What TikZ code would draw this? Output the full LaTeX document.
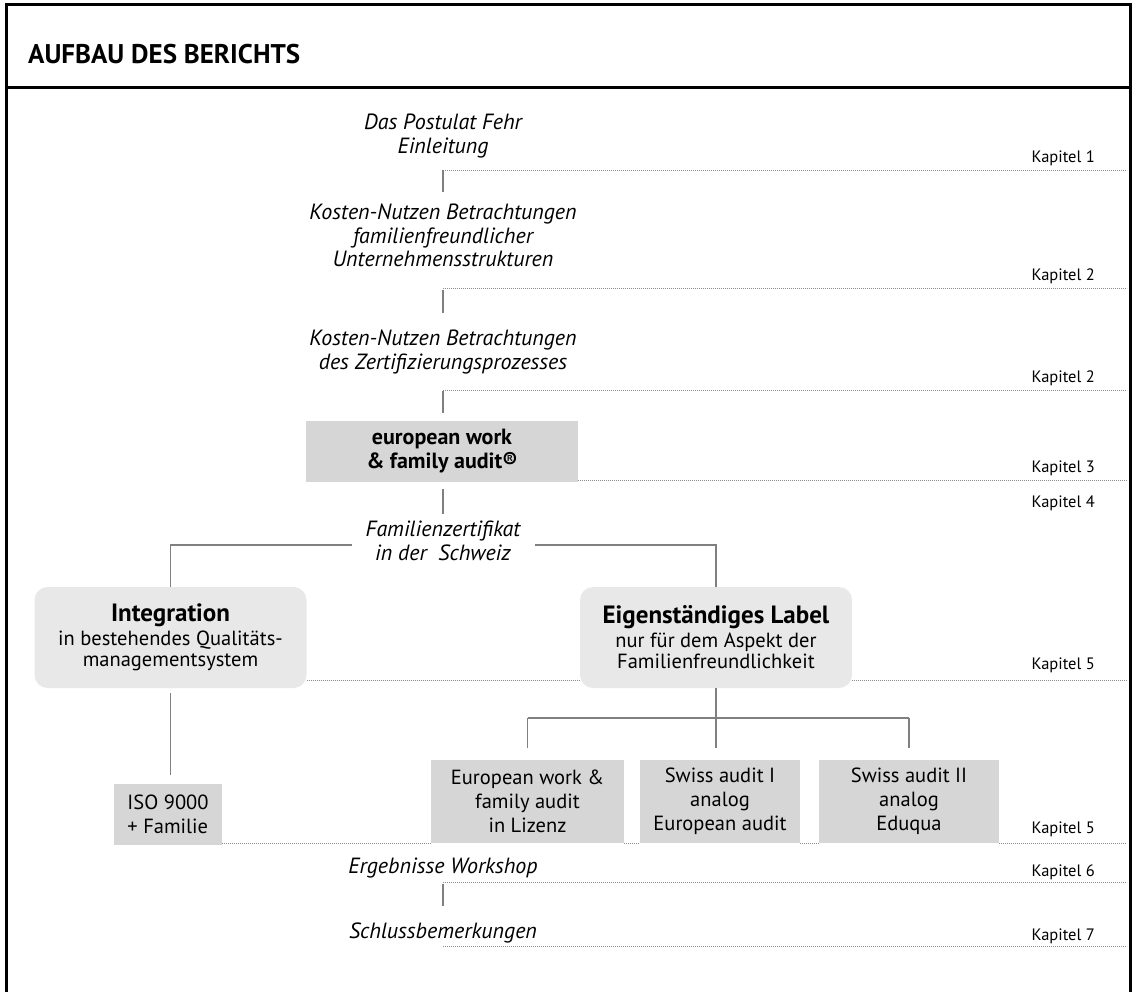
\documentclass[tikz,border=0pt]{standalone}
\usepackage{fontspec}
\setmainfont{PT Sans}
\definecolor{boxgray}{RGB}{214,214,214}
\definecolor{roundgray}{RGB}{232,232,232}
\definecolor{linegray}{RGB}{128,128,128}
\definecolor{dotgray}{RGB}{140,140,140}
\begin{document}
\begin{tikzpicture}[x=1pt,y=-1pt,
  itxt/.style={font=\itshape\fontsize{22}{23.5}\selectfont, align=center, inner sep=0pt},
  kap/.style={font=\fontsize{16.5}{18}\selectfont, inner sep=0pt, anchor=east},
  conn/.style={draw=linegray, line width=1.3pt},
  dotl/.style={draw=dotgray, line width=0.7pt, dash pattern=on 0.7pt off 1.3pt},
  sqbox/.style={fill=boxgray, align=center, inner sep=0pt, font=\fontsize{20.5}{24}\selectfont},
  rbox/.style={fill=roundgray, rounded corners=13pt, align=center, inner sep=0pt,
     minimum width=272pt, minimum height=101pt, font=\fontsize{20.5}{21}\selectfont},
  frame/.style={draw=black, line width=3pt}
]
\useasboundingbox (0,0) rectangle (1137,992);
% frame
\draw[frame] (6.5,992) -- (6.5,5) -- (1130.5,5) -- (1130.5,992);
\draw[frame] (6.5,88) -- (1130.5,88);
\node[anchor=west, inner sep=0pt, font=\bfseries\fontsize{27}{30}\selectfont] (title) at (28,54) {AUFBAU DES BERICHTS};

% texts along the spine
\node[itxt] (t1) at (443,136) {Das Postulat Fehr\\Einleitung};
\node[itxt] (t2) at (443,235.5) {Kosten-Nutzen Betrachtungen\\familienfreundlicher\\Unternehmensstrukturen};
\node[itxt] (t3) at (443,352) {Kosten-Nutzen Betrachtungen\\des Zertifizierungsprozesses};
\node[sqbox, minimum width=272pt, minimum height=61pt, font=\bfseries\fontsize{22}{24}\selectfont] (eb) at (442,451.5) {european work\\\& family audit®};
\node[itxt] (fz) at (443,541) {Familienzertifikat\\in der\ \ Schweiz};

\node[rbox] (integ) at (170.5,637.5) {{\bfseries\fontsize{25}{26}\selectfont Integration}\\[3pt]in bestehendes Qualitäts-\\managementsystem};
\node[rbox] (eig) at (716,637.5) {{\bfseries\fontsize{25}{26}\selectfont Eigenständiges Label}\\[3pt]nur für dem Aspekt der\\Familienfreundlichkeit};

\node[sqbox, minimum width=108pt, minimum height=61pt, align=left] (iso) at (168,814.5) {ISO 9000\\+ Familie};
\node[sqbox, minimum width=193pt, minimum height=83pt] (b1) at (527.5,801.5) {European work \&\\family audit\\in Lizenz};
\node[sqbox, minimum width=160pt, minimum height=83pt] (b2) at (720,801.5) {Swiss audit I\\analog\\European audit};
\node[sqbox, minimum width=180pt, minimum height=83pt] (b3) at (909,801.5) {Swiss audit II\\analog\\Eduqua};

\node[itxt] (t6) at (443,868) {Ergebnisse Workshop};
\node[itxt] (t7) at (443,933) {Schlussbemerkungen};

% chapter labels
\node[kap] (k1) at (1095,158) {Kapitel 1};
\node[kap] (k2) at (1095,276) {Kapitel 2};
\node[kap] (k2b) at (1095,378) {Kapitel 2};
\node[kap] (k3) at (1095,468) {Kapitel 3};
\node[kap] (k4) at (1095,503) {Kapitel 4};
\node[kap] (k5) at (1095,665) {Kapitel 5};
\node[kap] (k5b) at (1095,829) {Kapitel 5};
\node[kap] (k6) at (1095,872) {Kapitel 6};
\node[kap] (k7) at (1095,936) {Kapitel 7};

% connector end points
\coordinate (c1a) at (443,170); \coordinate (c1b) at (443,192);
\coordinate (c2a) at (443,290); \coordinate (c2b) at (443,313);
\coordinate (c3a) at (443,391); \coordinate (c3b) at (443,413);
\coordinate (c4a) at (443,489); \coordinate (c4b) at (443,514);
\coordinate (fzL) at (352,545); \coordinate (fzR) at (535,545);
\coordinate (L1) at (170.5,545); \coordinate (R1) at (716,545);
\coordinate (ia) at (170.5,693); \coordinate (ib) at (170.5,775);
\coordinate (ej) at (716,718);
\coordinate (h1) at (527.5,718); \coordinate (h3) at (909,718);
\coordinate (v1) at (527.5,748); \coordinate (v2) at (716,748); \coordinate (v3) at (909,748);
\coordinate (c6a) at (443,884); \coordinate (c6b) at (443,906);

\draw[conn] (c1a) -- (c1b);
\draw[conn] (c2a) -- (c2b);
\draw[conn] (c3a) -- (c3b);
\draw[conn] (c4a) -- (c4b);
\draw[conn] (fzL) -- (L1) -- (integ.north);
\draw[conn] (fzR) -- (R1) -- (eig.north);
\draw[conn] (ia) -- (ib);
\draw[conn] (eig.south) -- (ej);
\draw[conn] (h1) -- (h3);
\draw[conn] (h1) -- (v1);
\draw[conn] (ej) -- (v2);
\draw[conn] (h3) -- (v3);
\draw[conn] (c6a) -- (c6b);

% dotted chapter lines
\draw[dotl] (443,170) -- (1127,170);
\draw[dotl] (443,288) -- (1127,288);
\draw[dotl] (443,390) -- (1127,390);
\draw[dotl] (eb.east |- 0,480) -- (1127,480);
\draw[dotl] (integ.east |- 0,680) -- (eig.west |- 0,680);
\draw[dotl] (eig.east |- 0,680) -- (1127,680);
\draw[dotl] (iso.east |- 0,843) -- (b1.west |- 0,843);
\draw[dotl] (b1.east |- 0,843) -- (b2.west |- 0,843);
\draw[dotl] (b2.east |- 0,843) -- (b3.west |- 0,843);
\draw[dotl] (b3.east |- 0,843) -- (1127,843);
\draw[dotl] (443,882) -- (1127,882);
\draw[dotl] (443,946) -- (1127,946);
\end{tikzpicture}
\end{document}
